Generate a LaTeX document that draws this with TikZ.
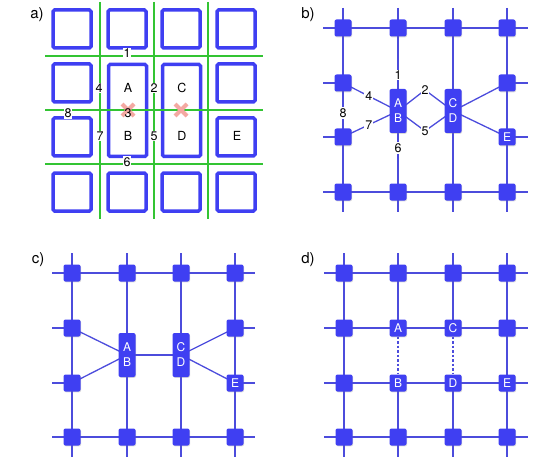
\documentclass[tikz,border=0pt]{standalone}
\usepackage{fontspec}
\setmainfont{TeX Gyre Heros}
\usetikzlibrary{positioning,backgrounds,shadows}
\definecolor{cellblue}{HTML}{3F3FF2}
\definecolor{wireblue}{HTML}{4C4CDC}
\definecolor{gridgreen}{HTML}{33C433}
\definecolor{markpink}{HTML}{F4A9A2}

\begin{document}
\begin{tikzpicture}[x=1pt, y=-1pt,
  cell/.style={draw=cellblue, line width=3.5pt, rounded corners=1.5pt},
  cut/.style={gridgreen, line width=1.6pt},
  xcross/.style={markpink, line width=4pt},
  num/.style={fill=white, text=black, inner sep=1pt, font=\fontsize{12.5}{14}\selectfont},
  lbl/.style={inner sep=0pt, font=\fontsize{12.5}{14}\selectfont},
  panel/.style={font=\fontsize{15}{17}\selectfont},
  site/.style={fill=cellblue, rounded corners=2pt, minimum size=17pt, inner sep=0pt,
               text=white, font=\fontsize{12}{15}\selectfont,
               drop shadow={opacity=0.3, shadow xshift=0.6pt, shadow yshift=-0.8pt}},
  pair/.style={site, minimum height=44pt, align=center},
  wire/.style={wireblue, line width=1.3pt},
  bond/.style={wireblue, line width=2.8pt},
  weak/.style={wireblue, line width=1.2pt, dash pattern=on 2.5pt off 2pt}
]
  \useasboundingbox (0,0) rectangle (540,473);

  % a) cells and cut lines
  \node[panel] (pa) at (37,15) {a)};
  \foreach \x in {72,127,181,236}
    \foreach \y in {29,192}
      \draw[cell] (\x-19,\y-19) rectangle (\x+19,\y+19);
  \foreach \x in {72,236}
    \foreach \y in {83,137}
      \draw[cell] (\x-19,\y-19) rectangle (\x+19,\y+19);
  \draw[cell] (108.5,64.5) rectangle (146.5,156.5);
  \draw[cell] (162.5,64.5) rectangle (200.5,156.5);
  \foreach \x in {100,154,208}
    \draw[cut] (\x,2) -- (\x,219);
  \foreach \y in {56,110,164}
    \draw[cut] (45,\y) -- (263,\y);
  \foreach \x in {128,181} {
    \draw[xcross] (\x-6,104) -- (\x+6,116);
    \draw[xcross] (\x-6,116) -- (\x+6,104);
  }
  \node[num] (a1) at (127,53) {1};
  \node[num] (a2) at (154,88) {2};
  \node[lbl] (a3) at (128,113) {3};
  \node[num] (a4) at (99,88) {4};
  \node[num] (a5) at (154,136) {5};
  \node[num] (a6) at (127,162) {6};
  \node[num] (a7) at (100,136) {7};
  \node[num] (a8) at (68,113) {8};
  \node[lbl] (aA) at (128,88) {A};
  \node[lbl] (aB) at (128,136) {B};
  \node[lbl] (aC) at (182,88) {C};
  \node[lbl] (aD) at (182,136) {D};
  \node[lbl] (aE) at (237,136) {E};

  % b) sites with split links
  \node[panel] (pb) at (308,15) {b)};
  \foreach \c/\x in {1/343,2/398,3/453,4/507} {
    \node[site] (b-1-\c) at (\x,28) {};
    \node[site] (b-4-\c) at (\x,192) {};
  }
  \node[site] (b-2-1) at (343,83) {};
  \node[site] (b-3-1) at (343,137) {};
  \node[site] (b-2-4) at (507,83) {};
  \node[site] (b-3-4) at (507,137) {E};
  \node[pair] (bAB) at (398,111) {A\\B};
  \node[pair] (bCD) at (453,111) {C\\D};
  \node[num] (b1) at (398,75) {1};
  \node[num] (b6) at (398,148) {6};
  \node[num] (b8) at (343,113) {8};
  \node[num] (b2) at (425,90) {2};
  \node[num] (b5) at (425,131) {5};
  \begin{scope}[on background layer]
    \foreach \c in {1,...,4}
      \draw[wire] ([yshift=20pt]b-1-\c.center) -- ([yshift=-20pt]b-4-\c.center);
    \foreach \r in {1,4}
      \draw[wire] ([xshift=-20pt]b-\r-1.center) -- ([xshift=21pt]b-\r-4.center);
    \foreach \r in {2,3} {
      \draw[wire] ([xshift=-20pt]b-\r-1.center) -- (b-\r-1.center);
      \draw[wire] (b-\r-4.center) -- ([xshift=21pt]b-\r-4.center);
    }
    \draw[wire] (b-2-1.center) -- node[num, pos=0.47] (b4) {4} (bAB.center);
    \draw[wire] (b-3-1.center) -- node[num, pos=0.47] (b7) {7} (bAB.center);
    \draw[wire] (bCD.center) -- (b-2-4.center);
    \draw[wire] (bCD.center) -- (b-3-4.center);
    \draw[wire] (bAB.center) -- (b2.center) -- (bCD.center);
    \draw[wire] (bAB.center) -- (b5.center) -- (bCD.center);
  \end{scope}

  % c) merged link
  \node[panel] (pc) at (38,260) {c)};
  \foreach \c/\x in {1/72,2/127,3/181,4/235} {
    \node[site] (c-1-\c) at (\x,273) {};
    \node[site] (c-4-\c) at (\x,437) {};
  }
  \node[site] (c-2-1) at (72,328) {};
  \node[site] (c-3-1) at (72,383) {};
  \node[site] (c-2-4) at (235,328) {};
  \node[site] (c-3-4) at (235,383) {E};
  \node[pair] (cAB) at (127,355) {A\\B};
  \node[pair] (cCD) at (181,355) {C\\D};
  \begin{scope}[on background layer]
    \foreach \c in {1,...,4}
      \draw[wire] ([yshift=20pt]c-1-\c.center) -- ([yshift=-20pt]c-4-\c.center);
    \foreach \r in {1,4}
      \draw[wire] ([xshift=-20pt]c-\r-1.center) -- ([xshift=20pt]c-\r-4.center);
    \foreach \r in {2,3} {
      \draw[wire] ([xshift=-20pt]c-\r-1.center) -- (c-\r-1.center);
      \draw[wire] (c-\r-4.center) -- ([xshift=20pt]c-\r-4.center);
    }
    \draw[wire] (c-2-1.center) -- (cAB.center);
    \draw[wire] (c-3-1.center) -- (cAB.center);
    \draw[wire] (cCD.center) -- (c-2-4.center);
    \draw[wire] (cCD.center) -- (c-3-4.center);
    \draw[bond] (cAB.center) -- (cCD.center);
  \end{scope}

  % d) original lattice
  \node[panel] (pd) at (308,260) {d)};
  \foreach \c/\x in {1/344,2/398,3/453,4/507} {
    \node[site] (d-1-\c) at (\x,273) {};
    \node[site] (d-4-\c) at (\x,437) {};
  }
  \node[site] (d-2-1) at (344,328) {};
  \node[site] (d-3-1) at (344,383) {};
  \node[site] (d-2-4) at (507,328) {};
  \node[site] (d-2-2) at (398,328) {A};
  \node[site] (d-2-3) at (453,328) {C};
  \node[site] (d-3-2) at (398,383) {B};
  \node[site] (d-3-3) at (453,383) {D};
  \node[site] (d-3-4) at (507,383) {E};
  \begin{scope}[on background layer]
    \foreach \r in {1,...,4}
      \draw[wire] ([xshift=-20pt]d-\r-1.center) -- ([xshift=21pt]d-\r-4.center);
    \foreach \c in {1,4}
      \draw[wire] ([yshift=20pt]d-1-\c.center) -- ([yshift=-20pt]d-4-\c.center);
    \foreach \c in {2,3} {
      \draw[wire] ([yshift=20pt]d-1-\c.center) -- (d-2-\c.center);
      \draw[weak] (d-2-\c) -- (d-3-\c);
      \draw[wire] (d-3-\c.center) -- ([yshift=-20pt]d-4-\c.center);
    }
    \draw[bond] (d-2-2.center) -- (d-2-3.center);
    \draw[bond] (d-3-2.center) -- (d-3-3.center);
  \end{scope}
\end{tikzpicture}
\end{document}
